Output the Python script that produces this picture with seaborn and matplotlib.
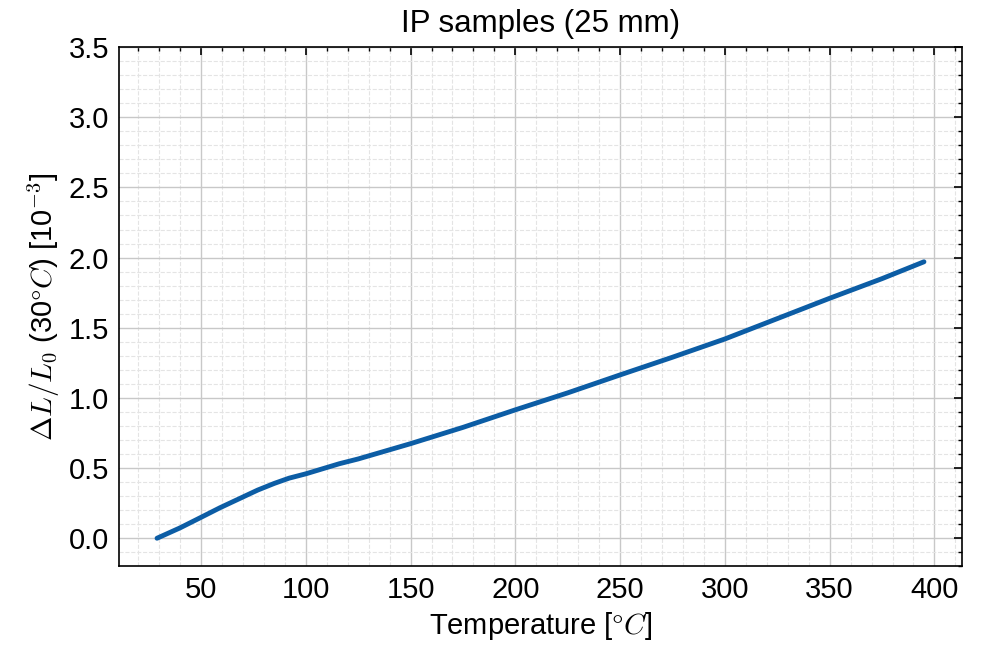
import matplotlib
matplotlib.use("Agg")
import matplotlib.pyplot as plt
import seaborn as sns
import pandas as pd
from matplotlib.ticker import MultipleLocator

temperature = [29, 40, 50, 59, 69, 77, 85, 92, 100, 116, 125, 150, 175, 200, 225, 250, 275, 300, 325, 350, 375, 395]
expansion = [0.0, 0.074, 0.149, 0.217, 0.287, 0.343, 0.391, 0.428, 0.459, 0.531, 0.565, 0.674, 0.79, 0.915, 1.036, 1.164, 1.29, 1.42, 1.565, 1.71, 1.85, 1.97]
title = "IP samples (25 mm)"
xlabel = r"Temperature [$\degree C$]"
ylabel = r"$\Delta L/L_0$ (30$\degree C$) [10$^{-3}$]"

sns.set_theme(style="white")
plt.rcParams["font.family"] = ["Liberation Sans", "DejaVu Sans"]
plt.rcParams["mathtext.fontset"] = "cm"
plt.rcParams["text.color"] = "black"
plt.rcParams["axes.labelcolor"] = "black"

df = pd.DataFrame({"T": temperature, "dL": expansion})

fig = plt.figure(figsize=(9.89, 6.45), dpi=100)
ax = fig.add_axes([0.120, 0.122, 0.853, 0.805])
sns.lineplot(data=df, x="T", y="dL", ax=ax, color="#0C5DA5", linewidth=3.5)

ax.set_ylim(-0.2, 3.5)
ax.xaxis.set_major_locator(MultipleLocator(50))
ax.xaxis.set_minor_locator(MultipleLocator(10))
ax.yaxis.set_major_locator(MultipleLocator(0.5))
ax.yaxis.set_minor_locator(MultipleLocator(0.1))
ax.yaxis.set_major_formatter(matplotlib.ticker.FormatStrFormatter("%.1f"))

ax.grid(which="major", color="#c8c8c8", linewidth=1.0, linestyle="-")
ax.grid(which="minor", color="#e4e4e4", linewidth=0.8, linestyle="--")
ax.set_axisbelow(True)

ax.tick_params(which="both", direction="in", top=True, right=True, labelsize=21,
               colors="black", labelcolor="black")
ax.tick_params(which="major", length=6, width=1.2, pad=7)
ax.tick_params(which="minor", length=3, width=1.0)
for s in ax.spines.values():
    s.set_color("black")
    s.set_linewidth(1.2)

ax.set_title(title, fontsize=22.5, pad=11, color="black")
ax.set_xlabel(xlabel, fontsize=21, labelpad=4)
ax.set_ylabel(ylabel, fontsize=21, labelpad=5)

fig.savefig("out.png", dpi=100)
